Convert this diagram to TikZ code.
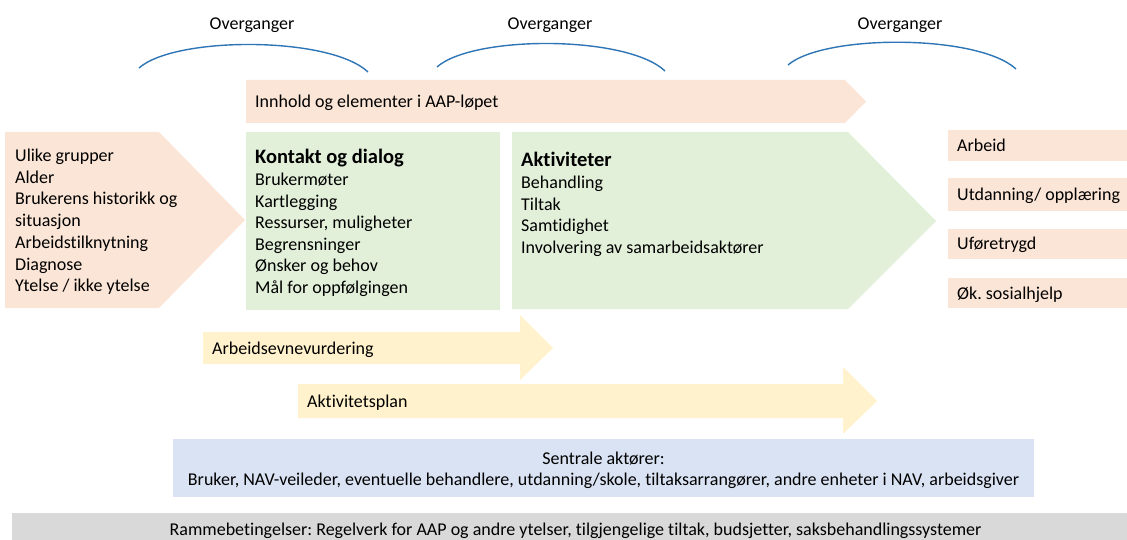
\documentclass[tikz,border=0pt]{standalone}
\usepackage{fontspec}
\setmainfont[Ligatures=NoCommon]{Carlito}
\frenchspacing
\definecolor{peach}{HTML}{FBE5D6}
\definecolor{lgreen}{HTML}{E2F0D9}
\definecolor{lyellow}{HTML}{FFF2CC}
\definecolor{lblue}{HTML}{DAE3F3}
\definecolor{lgray}{HTML}{D9D9D9}
\definecolor{arcblue}{HTML}{2E75B6}
\begin{document}
\begin{tikzpicture}[x=1pt,y=-1pt,
  txt/.style={inner sep=0pt, anchor=base west, font=\fontsize{18}{21}\selectfont\frenchspacing},
  ctxt/.style={inner sep=0pt, anchor=base, font=\fontsize{18}{21}\selectfont\frenchspacing},
  head/.style={inner sep=0pt, anchor=base west, font=\fontsize{20.5}{24}\selectfont\bfseries},
  arcline/.style={draw=arcblue, line width=1.4pt}]
\useasboundingbox (0,0) rectangle (1127,540);

% top arcs
\draw[arcline] (139,68) .. controls (175,36) and (330,36) .. (368,72);
\draw[arcline] (437,67) .. controls (473,35) and (627,35) .. (665,71);
\draw[arcline] (788,65) .. controls (824,34) and (978,34) .. (1016,69);
\node[ctxt] (ov1) at (252,30) {Overganger};
\node[ctxt] (ov2) at (550,30) {Overganger};
\node[ctxt] (ov3) at (900,30) {Overganger};

% top arrow
\fill[peach] (246,80) -- (845,80) -- (866,101.5) -- (845,123) -- (246,123) -- cycle;
\node[txt] (innhold) at (255,107.5) {Innhold og elementer i AAP-løpet};

% left pentagon
\fill[peach] (5,132) -- (159,132) -- (245,220) -- (159,308) -- (5,308) -- cycle;
\foreach \t [count=\i from 0] in {Ulike grupper, Alder, Brukerens historikk og, situasjon, Arbeidstilknytning, Diagnose, Ytelse / ikke ytelse}
  \node[txt] (inp\i) at (15,161.5+21.7*\i) {\t};

% green 1
\fill[lgreen] (246,132) rectangle (500,310);
\node[head] (kontakt) at (255,164) {Kontakt og dialog};
\foreach \t [count=\i from 0] in {Brukermøter, Kartlegging, {Ressurser, muligheter}, Begrensninger, Ønsker og behov, Mål for oppfølgingen}
  \node[txt] (kd\i) at (255,186+21.4*\i) {\t};

% green 2
\fill[lgreen] (512,132) -- (848,132) -- (936,221) -- (848,309) -- (512,309) -- cycle;
\node[head] (aktiviteter) at (521,166.5) {Aktiviteter};
\foreach \t [count=\i from 0] in {Behandling, Tiltak, Samtidighet, Involvering av samarbeidsaktører}
  \node[txt] (ak\i) at (521,189+21.4*\i) {\t};

% right outcome boxes
\fill[peach] (948,130) rectangle (1127,161);
\fill[peach] (948,178) rectangle (1127,211);
\fill[peach] (948,229) rectangle (1127,259);
\fill[peach] (948,278) rectangle (1127,308);
\node[txt] (o1) at (957,151.5) {Arbeid};
\node[txt] (o2) at (957,200.5) {Utdanning/ opplæring};
\node[txt] (o3) at (957,250) {Uføretrygd};
\node[txt] (o4) at (957,299) {Øk. sosialhjelp};

% yellow arrows
\fill[lyellow] (203,332) -- (520,332) -- (520,315) -- (553,348) -- (520,380) -- (520,364) -- (203,364) -- cycle;
\node[txt] (aev) at (212,354) {Arbeidsevnevurdering};
\fill[lyellow] (298,384) -- (843,384) -- (843,367) -- (877,401) -- (843,434) -- (843,418) -- (298,418) -- cycle;
\node[txt] (ap) at (307,407) {Aktivitetsplan};

% blue box
\fill[lblue] (173,439) rectangle (1034,497);
\node[ctxt] (s1) at (603.5,464) {Sentrale aktører:};
\node[ctxt] (s2) at (603.5,485) {Bruker, NAV-veileder, eventuelle behandlere, utdanning/skole, tiltaksarrangører, andre enheter i NAV, arbeidsgiver};

% gray box
\fill[lgray] (12,513) rectangle (1127,540);
\node[ctxt] (r1) at (575.5,535) {Rammebetingelser: Regelverk for AAP og andre ytelser, tilgjengelige tiltak, budsjetter, saksbehandlingssystemer};
\end{tikzpicture}
\end{document}
